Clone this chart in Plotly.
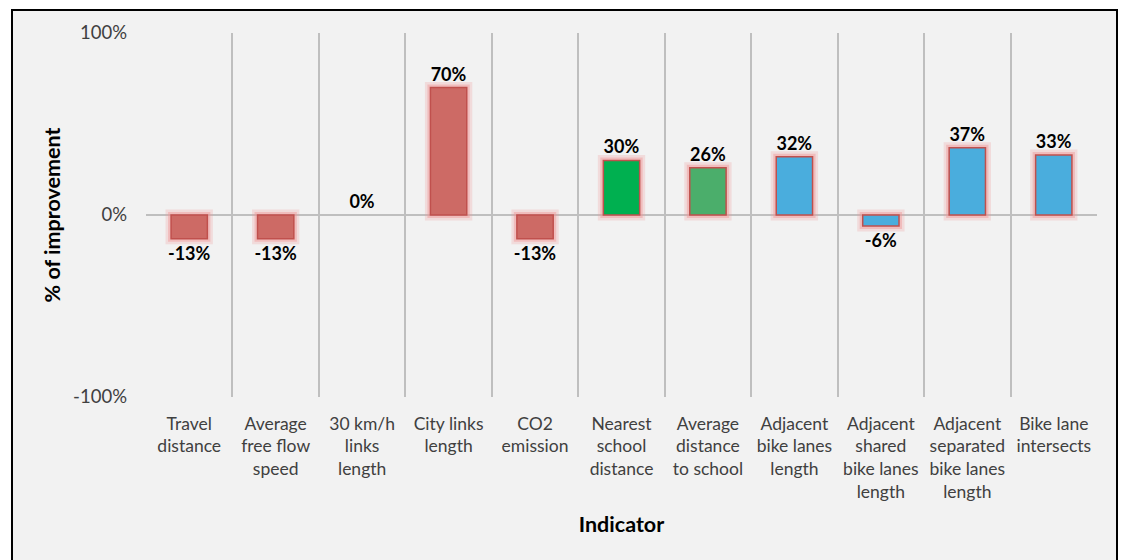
import plotly.graph_objects as go

categories = [
    "Travel<br>distance",
    "Average<br>free flow<br>speed",
    "30 km/h<br>links<br>length",
    "City links<br>length",
    "CO2<br>emission",
    "Nearest<br>school<br>distance",
    "Average<br>distance<br>to school",
    "Adjacent<br>bike lanes<br>length",
    "Adjacent<br>shared<br>bike lanes<br>length",
    "Adjacent<br>separated<br>bike lanes<br>length",
    "Bike lane<br>intersects",
]
values = [-0.13, -0.13, 0.0, 0.70, -0.13, 0.30, 0.26, 0.32, -0.06, 0.37, 0.33]
bar_colors = ["#CD6A65", "#CD6A65", "#CD6A65", "#CD6A65", "#CD6A65",
              "#00B050", "#4BAE6B", "#4AADDD", "#4AADDD", "#4AADDD", "#4AADDD"]
y_tickvals = [-1, 0, 1]
y_ticktext = ["-100%", "0%", "100%"]

FONT = "Lato"
W, H = 1122, 560
fig = go.Figure()

# glow layers
for lw, col in [(11, "rgba(240,150,150,0.25)"), (6, "rgba(240,150,150,0.45)")]:
    fig.add_trace(go.Bar(
        x=categories, y=values, width=0.42,
        marker=dict(color=col,
                    line=dict(color=[col if v != 0 else "rgba(0,0,0,0)" for v in values], width=lw)),
        hoverinfo="skip", showlegend=False,
    ))

fig.add_trace(go.Bar(
    x=categories, y=values, width=0.42,
    marker=dict(color=bar_colors, line=dict(color=["#C0504D" if v != 0 else "rgba(0,0,0,0)" for v in values], width=1.5)),
    text=[f"{round(v*100):d}%" for v in values],
    textposition="outside",
    constraintext="none",
    textfont=dict(family=FONT, size=18, color="#000000", weight="bold"),
    cliponaxis=False,
    showlegend=False,
))

# plot area in page px: left 146, right 1097, top 33, bottom 397
L, T, R, B = 146, 33, 1122 - 1097, 560 - 397
pw, ph = W - L - R, H - T - B
fig.add_shape(type="rect", xref="paper", yref="paper",
              x0=(12 - L) / pw, x1=(1117 - L) / pw,
              y0=(397 - 566) / ph, y1=(397 - 10) / ph,
              fillcolor="#F2F2F2", line=dict(color="#000000", width=2), layer="below")

fig.update_layout(
    width=W, height=H,
    margin=dict(l=L, r=R, t=T, b=B),
    paper_bgcolor="#FFFFFF",
    plot_bgcolor="rgba(0,0,0,0)",
    barmode="overlay",
    font=dict(family=FONT, size=17.5, color="#404040"),
    xaxis=dict(
        type="category", tickson="boundaries", range=[-0.5, 10.5],
        showgrid=True, gridcolor="#BFBFBF", gridwidth=1.5,
        ticks="", showline=False, zeroline=False, ticklabelstandoff=14,
        tickfont=dict(family=FONT, size=17.5, color="#404040"),
        title=dict(text="Indicator", font=dict(family=FONT, size=21.5, color="#000000", weight="bold"), standoff=16),
    ),
    yaxis=dict(
        range=[-1, 1], tickvals=y_tickvals, ticktext=y_ticktext,
        showgrid=False, zeroline=True, zerolinecolor="#BFBFBF", zerolinewidth=1.5,
        showline=False, ticks="", ticklabelstandoff=18,
        tickfont=dict(family=FONT, size=18.5, color="#404040"),
        title=dict(text="% of improvement", font=dict(family=FONT, size=21.5, color="#000000", weight="bold"), standoff=6),
    ),
)

fig.write_html(
    "out.html",
    config={"displayModeBar": False},
    post_script="document.body.style.margin='0';document.body.style.overflow='hidden';",
)
